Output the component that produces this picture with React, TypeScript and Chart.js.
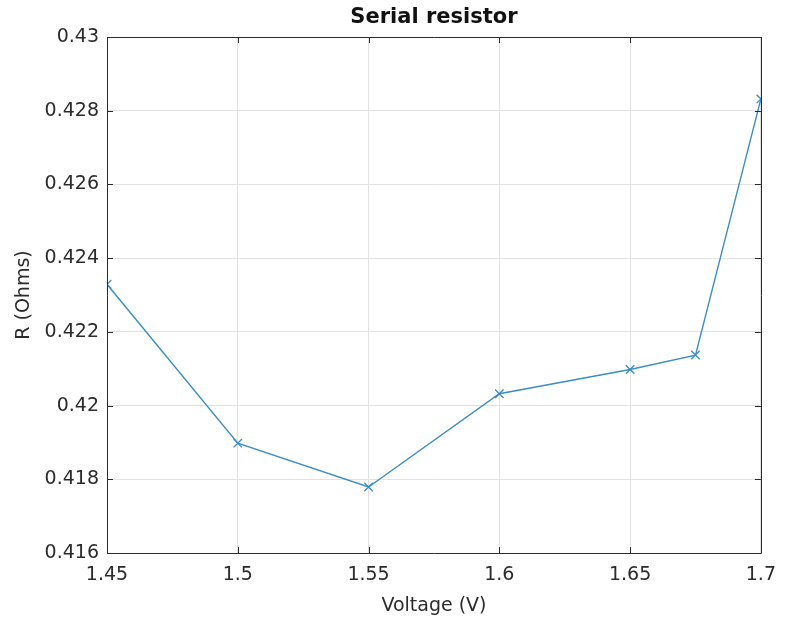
import React, { useEffect, useRef } from "react";
import { Chart, registerables } from "chart.js";

Chart.register(...registerables);

const voltage = [1.45, 1.5, 1.55, 1.6, 1.65, 1.675, 1.7];
const resistance = [0.42329, 0.41898, 0.41779, 0.42032, 0.42098, 0.42137, 0.42832];
const xTicks = [1.45, 1.5, 1.55, 1.6, 1.65, 1.7];
const yTicks = [0.416, 0.418, 0.42, 0.422, 0.424, 0.426, 0.428, 0.43];

const titleText = "Serial resistor";
const xTitle = "Voltage (V)";
const yTitle = "R (Ohms)";

const FONT = "'DejaVu Sans', sans-serif";
const TEXT = "#2b2b2b";

const fmt = (v: number) => String(Number(Number(v).toFixed(4)));

const boxPlugin = {
  id: "matlabBox",
  afterDraw(chart: any) {
    const { ctx, chartArea: a, scales } = chart;
    const L = 6;
    ctx.save();
    ctx.strokeStyle = TEXT;
    ctx.lineWidth = 1;
    ctx.beginPath();
    xTicks.forEach((t) => {
      const x = Math.round(scales.x.getPixelForValue(t)) + 0.5;
      ctx.moveTo(x, a.bottom);
      ctx.lineTo(x, a.bottom - L);
      ctx.moveTo(x, a.top);
      ctx.lineTo(x, a.top + L);
    });
    yTicks.forEach((t) => {
      const y = Math.round(scales.y.getPixelForValue(t)) + 0.5;
      ctx.moveTo(a.left, y);
      ctx.lineTo(a.left + L, y);
      ctx.moveTo(a.right, y);
      ctx.lineTo(a.right - L, y);
    });
    ctx.stroke();
    ctx.beginPath();
    ctx.rect(Math.round(a.left) + 0.5, Math.round(a.top) + 0.5, Math.round(a.right - a.left), Math.round(a.bottom - a.top));
    ctx.stroke();
    // title centred over the plot area
    ctx.fillStyle = "#111";
    ctx.font = `bold 21px ${FONT}`;
    ctx.textAlign = "center";
    ctx.textBaseline = "middle";
    ctx.fillText(titleText, (a.left + a.right) / 2, 18);
    ctx.restore();
  },
};

export default function App() {
  const ref = useRef<HTMLCanvasElement | null>(null);
  useEffect(() => {
    if (!ref.current) return;
    const chart = new Chart(ref.current, {
      type: "line",
      data: {
        datasets: [
          {
            data: voltage.map((v, i) => ({ x: v, y: resistance[i] })),
            borderColor: "#3b8dc4",
            backgroundColor: "#3b8dc4",
            borderWidth: 1.4,
            pointStyle: "crossRot",
            pointRadius: 6,
            pointBorderWidth: 1.3,
            pointBorderColor: "#3b8dc4",
            tension: 0,
            fill: false,
          },
        ],
      },
      options: {
        responsive: true,
        maintainAspectRatio: false,
        animation: false,
        layout: { padding: { left: 0, right: 21, top: 37, bottom: 0 } },
        plugins: {
          legend: { display: false },
          tooltip: { enabled: false },
          title: { display: false },
        },
        scales: {
          x: {
            type: "linear",
            min: 1.45,
            max: 1.7,
            afterBuildTicks: (s: any) => {
              s.ticks = xTicks.map((v) => ({ value: v }));
            },
            afterFit: (s: any) => {
              s.height = 71;
            },
            ticks: {
              color: TEXT,
              font: { family: FONT, size: 19 },
              padding: 11,
              maxRotation: 0,
              autoSkip: false,
              callback: (v: any) => fmt(v),
            },
            grid: { color: "#e2e2e2", lineWidth: 1, drawTicks: false },
            border: { display: false },
            title: {
              display: true,
              text: xTitle,
              color: TEXT,
              font: { family: FONT, size: 19 },
              padding: { top: 0, bottom: 7 },
            },
          },
          y: {
            type: "linear",
            min: 0.416,
            max: 0.43,
            afterBuildTicks: (s: any) => {
              s.ticks = yTicks.map((v) => ({ value: v }));
            },
            afterFit: (s: any) => {
              s.width = 107;
            },
            ticks: {
              color: TEXT,
              font: { family: FONT, size: 19 },
              padding: 8,
              autoSkip: false,
              callback: (v: any) => fmt(v),
            },
            grid: { color: "#e2e2e2", lineWidth: 1, drawTicks: false },
            border: { display: false },
            title: {
              display: true,
              text: yTitle,
              color: TEXT,
              font: { family: FONT, size: 19 },
              padding: { top: 13, bottom: 0 },
            },
          },
        },
      },
      plugins: [boxPlugin],
    });
    return () => chart.destroy();
  }, []);
  return (
    <div style={{ position: "fixed", left: 0, top: 0, width: 787, height: 624, background: "#fff" }}>
      <canvas ref={ref} />
    </div>
  );
}
